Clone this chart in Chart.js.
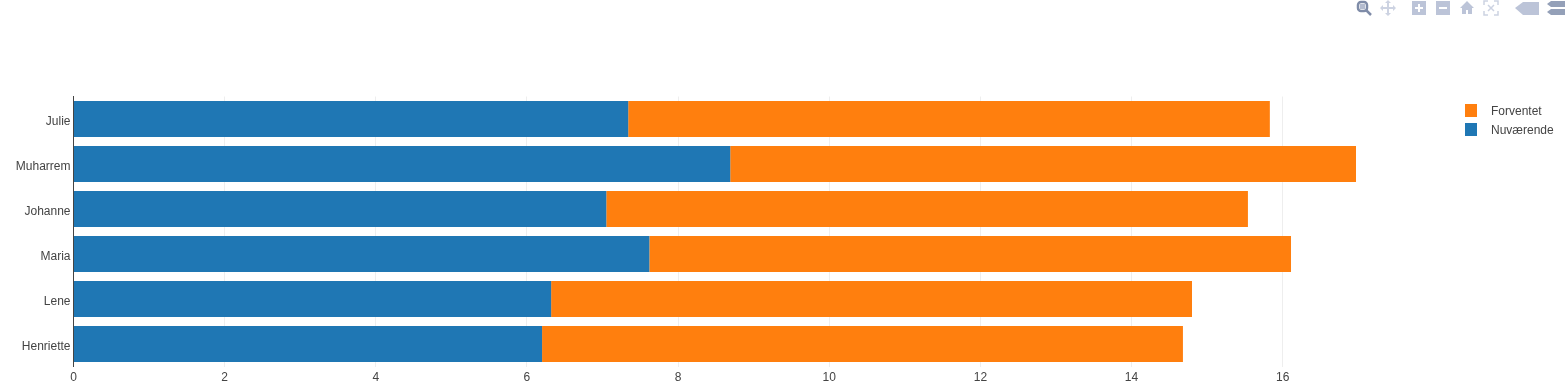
<!DOCTYPE html>
<html>
<head>
<meta charset="utf-8">
<title>Forventet</title>
<script src="https://cdn.jsdelivr.net/npm/chart.js@4"></script>
<style>
    html, body { margin: 0; padding: 0; background: #fff; }
    #wrap { position: relative; width: 1565px; height: 392px; overflow: hidden; }
    #barChart { position: absolute; left: 0; top: 0; }
    #modebar { position: absolute; left: 0; top: 0; }
    #legend { position: absolute; left: 1465px; top: 101px; font: 12px "Liberation Sans", Arial, sans-serif; color: #444; }
    .item { position: relative; height: 19px; line-height: 20px; padding-left: 26px; white-space: nowrap; }
    .swatch { position: absolute; left: 0; top: 3px; width: 12px; height: 13px; }
</style>
</head>
<body>
<div id="wrap">
    <canvas id="barChart" width="1565" height="392"></canvas>
    <div id="legend"></div>
    <!-- toolbar icons top right -->
    <svg id="modebar" width="1565" height="20">
        <g fill="none" stroke="#7f8ca8" stroke-width="2.5">
            <rect x="1358" y="2" width="9" height="9" rx="3"/>
            <path d="M1366 10l5 5"/>
        </g>
        <rect x="1360" y="4" width="5" height="5" fill="#b4bccf"/>
        <g fill="#cdd3e2">
            <path d="M1388 0l3 3h-2v4h4v-2l3 3-3 3v-2h-4v4h2l-3 3-3-3h2v-4h-4v2l-3-3 3-3v2h4V3h-2z"/>
        </g>
        <g fill="#bcc4d8">
            <path d="M1412 1h14v14h-14zM1418 4v3h-3v2h3v3h2V9h3V7h-3V4z" fill-rule="evenodd"/>
            <path d="M1436 1h14v14h-14zM1439 7v2h8V7z" fill-rule="evenodd"/>
            <path d="M1467 1l7 7h-2v6h-4v-4h-2v4h-4V8h-2z"/>
            <path d="M1515 8l8-6h16v13h-16z"/>
        </g>
        <g fill="none" stroke="#cdd3e2" stroke-width="1.5">
            <path d="M1484 5V1h4M1494 1h4v4M1498 11v4h-4M1488 15h-4v-4"/>
            <path d="M1488 5l6 6M1494 5l-6 6"/>
        </g>
        <g fill="#94a0b8">
            <path d="M1551 1h14v6h-14l-4-3z"/>
            <path d="M1551 9h14v6h-14l-4-3z"/>
        </g>
    </svg>
</div>
<script>
// values
const names = ['Julie', 'Muharrem', 'Johanne', 'Maria', 'Lene', 'Henriette'];
const nuvaerende = [7.34, 8.69, 7.05, 7.62, 6.32, 6.20];
const forventet = [8.49, 8.28, 8.49, 8.49, 8.48, 8.48];
const xTicksMax = 16.97;

const textColor = '#444';
const labelFont = { family: '"Liberation Sans", Arial, sans-serif', size: 12 };

const ctx = document.getElementById('barChart').getContext('2d');

const barChart = new Chart(ctx, {
    type: 'bar',
    data: {
        labels: names,
        datasets: [
            { label: 'Nuværende', data: nuvaerende, backgroundColor: '#1f77b4', borderWidth: 0, barPercentage: 0.8, categoryPercentage: 1 },
            { label: 'Forventet', data: forventet, backgroundColor: '#ff7f0e', borderWidth: 0, barPercentage: 0.8, categoryPercentage: 1 }
        ]
    },
    options: {
        indexAxis: 'y',
        responsive: false,
        animation: false,
        layout: { padding: { top: 96.5, right: 209, bottom: 0, left: 0 } },
        plugins: {
            legend: { display: false },
            tooltip: { enabled: false }
        },
        scales: {
            x: {
                stacked: true,
                min: 0,
                max: xTicksMax,
                grid: { color: '#eee', drawTicks: false },
                border: { display: false },
                ticks: { stepSize: 2, includeBounds: false, color: textColor, font: labelFont, padding: 4, maxRotation: 0 },
                afterFit: function (scale) { scale.height = 25.5; }
            },
            y: {
                stacked: true,
                grid: { display: false, drawTicks: false },
                border: { color: '#444', width: 1 },
                ticks: { color: textColor, font: labelFont, padding: 3, labelOffset: 3 },
                afterFit: function (scale) { scale.width = 73.5; }
            }
        }
    }
});

// html legend, top series first like the original
const legend = document.getElementById('legend');
barChart.data.datasets.slice().reverse().forEach(function (ds) {
    const item = document.createElement('div');
    item.className = 'item';
    const swatch = document.createElement('span');
    swatch.className = 'swatch';
    swatch.style.background = ds.backgroundColor;
    item.appendChild(swatch);
    item.appendChild(document.createTextNode(ds.label));
    legend.appendChild(item);
});
</script>
</body>
</html>
